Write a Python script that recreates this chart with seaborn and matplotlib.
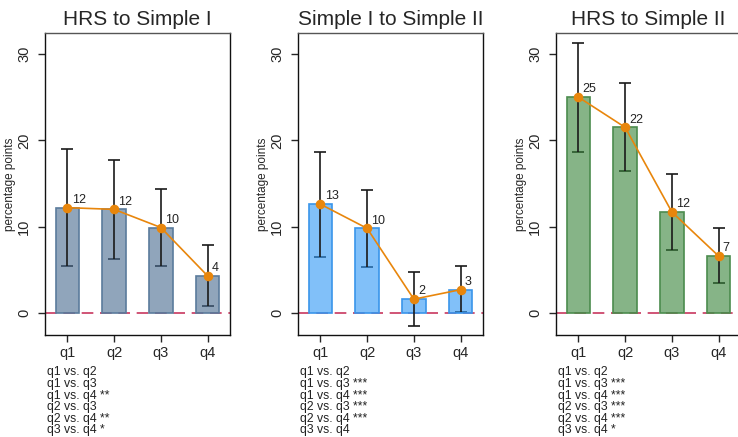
import numpy as np
import pandas as pd
import matplotlib
matplotlib.use("Agg")
import matplotlib.pyplot as plt
import seaborn as sns

# ---- data ----
quartiles = ["q1", "q2", "q3", "q4"]
titles = ["HRS to Simple I", "Simple I to Simple II", "HRS to Simple II"]

mean_p1 = [12.2, 12.0, 9.9, 4.3]
lo_p1 = [5.5, 6.3, 5.4, 0.8]
hi_p1 = [19.0, 17.7, 14.4, 7.9]

mean_p2 = [12.6, 9.8, 1.6, 2.7]
lo_p2 = [6.5, 5.3, -1.5, 0.1]
hi_p2 = [18.7, 14.3, 4.7, 5.4]

mean_p3 = [25.0, 21.5, 11.7, 6.6]
lo_p3 = [18.7, 16.4, 7.3, 3.5]
hi_p3 = [31.3, 26.6, 16.1, 9.8]

labels_p1 = ["12", "12", "10", "4"]
labels_p2 = ["13", "10", "2", "3"]
labels_p3 = ["25", "22", "12", "7"]

tests_p1 = ["q1 vs. q2", "q1 vs. q3", "q1 vs. q4 **", "q2 vs. q3", "q2 vs. q4 **", "q3 vs. q4 *"]
tests_p2 = ["q1 vs. q2", "q1 vs. q3 ***", "q1 vs. q4 ***", "q2 vs. q3 ***", "q2 vs. q4 ***", "q3 vs. q4"]
tests_p3 = ["q1 vs. q2", "q1 vs. q3 ***", "q1 vs. q4 ***", "q2 vs. q3 ***", "q2 vs. q4 ***", "q3 vs. q4 *"]

yticks = [0, 10, 20, 30]

# ---- styles ----
sns.set_style("ticks")
plt.rcParams["font.family"] = ["Liberation Sans", "DejaVu Sans"]

bar_fill = [(70/255, 105/255, 143/255, 0.6), (45/255, 150/255, 245/255, 0.6), (53/255, 130/255, 55/255, 0.6)]
bar_edge = ["#5B7C9C", "#3A95EA", "#4C8C4E"]
orange = "#E8860C"
zero_col = "#C8375F"

W, H = 738, 437
fig = plt.figure(figsize=(W / 100, H / 100), dpi=100)

ax_left_px = [45, 298, 556]
ax_w_px = 185
ax_top_px, ax_bot_px = 33, 335

panels = [
    (mean_p1, lo_p1, hi_p1, labels_p1, tests_p1),
    (mean_p2, lo_p2, hi_p2, labels_p2, tests_p2),
    (mean_p3, lo_p3, hi_p3, labels_p3, tests_p3),
]

for i, (means, los, his, labs, tests) in enumerate(panels):
    ax = fig.add_axes([ax_left_px[i] / W, 1 - ax_bot_px / H, ax_w_px / W, (ax_bot_px - ax_top_px) / H])
    df = pd.DataFrame({"quartile": quartiles, "mean": means, "lo": los, "hi": his})

    sns.barplot(data=df, x="quartile", y="mean", ax=ax, width=0.5, errorbar=None,
                color=bar_fill[i][:3])
    for p in ax.patches:
        p.set_facecolor(bar_fill[i])
        p.set_edgecolor(bar_edge[i])
        p.set_linewidth(1.2)
        p.set_zorder(2)

    xs = np.arange(len(quartiles))
    m = np.array(means)
    yerr = np.vstack([m - np.array(los), np.array(his) - m])
    ax.errorbar(xs, m, yerr=yerr, fmt="none", ecolor="#1a1a1a", elinewidth=1.2,
                capsize=4, capthick=1.2, zorder=1.5)

    ax.axhline(0, color=zero_col, lw=1.2, ls=(0, (7, 4)), zorder=1)

    sns.pointplot(data=df, x="quartile", y="mean", ax=ax, color=orange, errorbar=None,
                  markers="o", markersize=6, linewidth=1.2)
    for ln in ax.lines[-1:]:
        ln.set_zorder(4)
    for c in ax.collections:
        c.set_zorder(4)

    for x, y, t in zip(xs, means, labs):
        ax.annotate(t, (x, y), xytext=(3, 3.5), textcoords="offset points",
                    ha="left", va="baseline", fontsize=9, color="#222222", zorder=5)

    ax.set_xlim(-0.48, 3.48)
    ax.set_ylim(-2.55, 32.43)
    ax.set_yticks(yticks)
    ax.set_yticklabels([str(v) for v in yticks], rotation=90, va="center", fontsize=10.5)
    ax.tick_params(axis="x", labelsize=10.5, length=5, width=1, pad=3)
    ax.tick_params(axis="y", length=5, width=1, pad=5)
    ax.set_xlabel("")
    ax.set_ylabel("percentage points", fontsize=8.5, labelpad=0.5)
    ax.set_title(titles[i], fontsize=15, pad=6)
    for side in ["left", "right", "bottom", "top"]:
        ax.spines[side].set_visible(True)
        ax.spines[side].set_color("#111111")
        ax.spines[side].set_linewidth(1.0)
    ax.spines["top"].set_color("#555555")

    fig.text((ax_left_px[i] + 2) / W, 1 - 366.5 / H, "\n".join(tests),
             ha="left", va="top", fontsize=8.8, linespacing=0.945, color="#222222")

fig.savefig("out.png", dpi=100)
